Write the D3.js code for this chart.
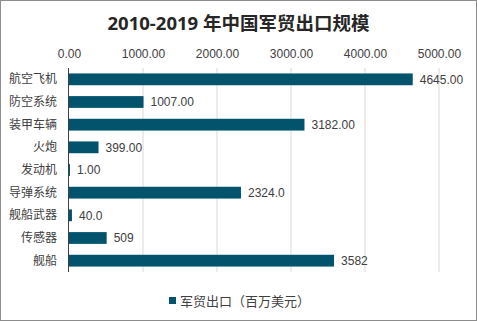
<!DOCTYPE html>
<html><head><meta charset="utf-8">
<script src="https://cdn.jsdelivr.net/npm/d3@7"></script>
<style>body{margin:0;background:#fff}svg{display:block}</style>
</head><body>
<script>
const categories = ["航空飞机","防空系统","装甲车辆","火炮","发动机","导弹系统","舰船武器","传感器","舰船"];
const values = [4645, 1007, 3182, 399, 1, 2324, 40, 509, 3582];
const valueLabels = ["4645.00","1007.00","3182.00","399.00","1.00","2324.0","40.0","509","3582"];
const tickValues = [0,1000,2000,3000,4000,5000];
const seriesName = "军贸出口（百万美元）";
const title = "2010-2019 年中国军贸出口规模";

const W=477,H=321;
const font = "'Noto Sans CJK SC','Noto Sans',sans-serif";
const svg=d3.select("body").append("svg").attr("width",W).attr("height",H);
svg.append("rect").attr("x",0.5).attr("y",0.5).attr("width",W-1).attr("height",H-1).attr("fill","#fff").attr("stroke","#8c8c8c");

const x=d3.scaleLinear().domain([0,5000]).range([69,439]);
const y=d3.scaleBand().domain(categories).range([68,272]).paddingInner(0.48).paddingOuter(0.24);

svg.append("text").attr("x",W/2).attr("y",30).attr("text-anchor","middle")
 .attr("font-family","'Open Sans','Noto Sans CJK SC',sans-serif").attr("font-size",18.5).attr("font-weight","bold").attr("fill","#262626").text(title);

// gridlines
svg.append("g").selectAll("line").data(tickValues.slice(1)).join("line")
 .attr("x1",d=>x(d)).attr("x2",d=>x(d)).attr("y1",68).attr("y2",272)
 .attr("stroke","#d9d9d9").attr("stroke-width",1);

const axisTop=d3.axisTop(x).tickValues(tickValues).tickFormat(d=>d3.format(".2f")(d)).tickSize(0).tickPadding(0);
const ag=svg.append("g").attr("transform","translate(0,58)").call(axisTop);
ag.select(".domain").remove();
ag.selectAll("text").attr("font-family","'Liberation Sans',Arial,sans-serif").attr("font-size",12).attr("fill","#404040");

svg.append("g").selectAll("rect").data(values).join("rect")
 .attr("x",x(0)).attr("y",(d,i)=>y(categories[i])).attr("width",d=>Math.max(1,x(d)-x(0)))
 .attr("height",y.bandwidth()).attr("fill","#03536d");

svg.append("line").attr("x1",x(0)-0.5).attr("x2",x(0)-0.5).attr("y1",68).attr("y2",272).attr("stroke","#404040");

const ay=d3.axisLeft(y).tickSize(0).tickPadding(12);
const yg=svg.append("g").attr("transform",`translate(${x(0)},0)`).call(ay);
yg.select(".domain").remove();
yg.selectAll("text").attr("font-family",font).attr("font-size",12).attr("fill","#404040");

svg.append("g").selectAll("text").data(values).join("text")
 .attr("x",d=>Math.max(x(d),x(0)+1)+7).attr("y",(d,i)=>y(categories[i])+y.bandwidth()/2).attr("dy","0.35em")
 .attr("font-family","'Liberation Sans',Arial,sans-serif").attr("font-size",12).attr("fill","#404040")
 .text((d,i)=>valueLabels[i]);

svg.append("rect").attr("x",169).attr("y",297).attr("width",7).attr("height",7).attr("fill","#03536d");
svg.append("text").attr("x",180).attr("y",301).attr("dy","0.35em").attr("font-family",font).attr("font-size",13).attr("fill","#404040").text(seriesName);
</script>
</body></html>
